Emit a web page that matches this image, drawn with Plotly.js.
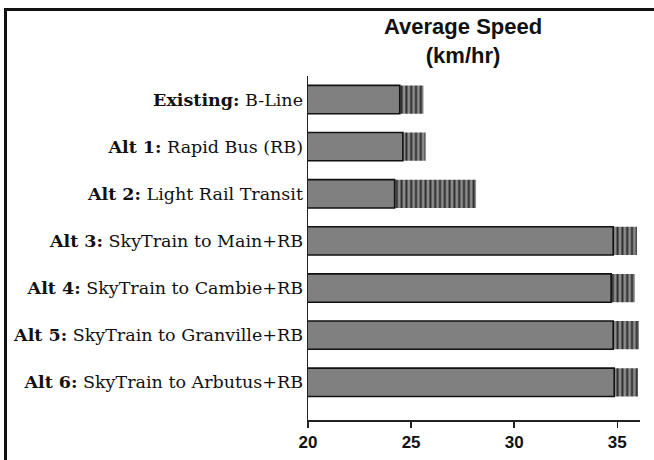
<!DOCTYPE html>
<html>
<head>
<meta charset="utf-8">
<script src="https://cdn.plot.ly/plotly-3.0.1.min.js"></script>
<style>
  html, body { margin: 0; padding: 0; background: #fff; }
  #chart { width: 654px; height: 460px; }
  #frame { position: absolute; left: 4px; top: 8px; width: 660px; height: 460px;
           border-top: 3px solid #111; border-left: 3px solid #111; pointer-events: none; }
</style>
</head>
<body>
<div id="chart"></div>
<div id="frame"></div>
<script>
const prefixes = ["Existing:", "Alt 1:", "Alt 2:", "Alt 3:", "Alt 4:", "Alt 5:", "Alt 6:"];
const names = ["B-Line", "Rapid Bus (RB)", "Light Rail Transit", "SkyTrain to Main+RB",
               "SkyTrain to Cambie+RB", "SkyTrain to Granville+RB", "SkyTrain to Arbutus+RB"];
const avgSpeed = [24.45, 24.6, 24.2, 34.8, 34.7, 34.8, 34.85];
const upperSpeed = [25.6, 25.7, 28.15, 35.95, 35.85, 36.05, 36.0];
const xTicks = [20, 25, 30, 35];

const cats = prefixes.map((p, i) => p + " " + names[i]);
const tickText = prefixes.map((p, i) => "<b>" + p + "</b> " + names[i]);

const hatch = {
  type: "bar", orientation: "h", y: cats, x: upperSpeed,
  marker: { color: "#8a8a8a", line: { width: 0 },
            pattern: { shape: "|", size: 4.8, solidity: 0.4, fgcolor: "#2a2a2a", bgcolor: "#8c8c8c" } },
  width: 0.6, hoverinfo: "x"
};
const solid = {
  type: "bar", orientation: "h", y: cats, x: avgSpeed,
  marker: { color: "#808080", line: { color: "#111", width: 1.6 } },
  width: 0.6, hoverinfo: "x"
};

const layout = {
  width: 654, height: 460,
  margin: { l: 308, r: 14, t: 76, b: 40 },
  paper_bgcolor: "#fff", plot_bgcolor: "#fff",
  barmode: "overlay", showlegend: false,
  annotations: [{
    text: "<b>Average Speed<br>(km/hr)</b>", showarrow: false,
    font: { family: "Liberation Sans, Arial, sans-serif", size: 22, color: "#111" },
    xref: "paper", x: 0.467, xanchor: "center",
    yref: "paper", y: 1.185, yanchor: "top", align: "center"
  }],
  xaxis: {
    range: [20, 36.1], tickvals: xTicks, ticktext: xTicks.map(String),
    ticks: "outside", ticklen: 6, tickwidth: 1.5, tickcolor: "#222",
    showline: true, linecolor: "#222", linewidth: 1.5, showgrid: false, zeroline: false,
    tickfont: { family: "Liberation Sans, Arial, sans-serif", size: 17, color: "#111", weight: "bold" }
  },
  yaxis: {
    type: "category", categoryorder: "array", categoryarray: cats,
    tickvals: cats, ticktext: tickText,
    range: [6.8, -0.5], showline: true, linecolor: "#222", linewidth: 1.5,
    ticks: "", showgrid: false, zeroline: false,
    tickfont: { family: "DejaVu Serif, serif", size: 17.5, color: "#111" }
  }
};

Plotly.newPlot("chart", [hatch, solid], layout, { displayModeBar: false, staticPlot: true });
</script>
</body>
</html>
